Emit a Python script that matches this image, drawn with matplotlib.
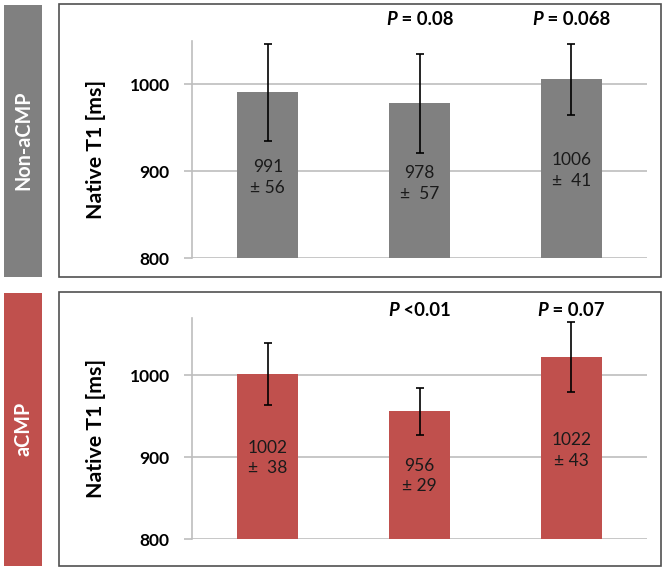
import matplotlib
matplotlib.use("Agg")
import matplotlib.pyplot as plt
from matplotlib.patches import Rectangle

plt.rcParams['font.family'] = ['Lato', 'DejaVu Sans']

# ---- data ----
groups = ["Non-aCMP", "aCMP"]
categories = ["A", "B", "C"]
means_non = [991, 978, 1006]
sd_non = [56, 57, 41]
means_acmp = [1002, 956, 1022]
sd_acmp = [38, 29, 43]
pm_sep_non = [" ", "  ", "  "]
pm_sep_acmp = ["  ", " ", " "]
p_non = ["", "0.08", "0.068"]
p_acmp = ["", "<0.01", "0.07"]
p_sep_non = ["", " = ", " = "]
p_sep_acmp = ["", " ", " = "]
yticks = [800, 900, 1000]
ylabel = "Native T1 [ms]"

# ---- style / layout ----
W, H = 665, 570
DPI = 100
GRAY = "#808080"
RED = "#C0504D"
GRID = "#BEBEBE"
FRAME = "#505050"
FS_TICK = 12.5
FS_YLAB = 15.3
FS_VAL = 12.5
FS_P = 13.3
FS_BAND = 14.2

fig = plt.figure(figsize=(W / DPI, H / DPI), dpi=DPI)
renderer = fig.canvas.get_renderer()


def fx(px):
    return px / W


def fy(py):
    return 1 - py / H


def text_width(s, **kw):
    t = fig.text(0, 0, s, **kw)
    w = t.get_window_extent(renderer).width
    t.remove()
    return w


def panel(top, bottom, band_color, group):
    fig.patches.append(Rectangle((fx(59), fy(bottom)), fx(661) - fx(59), fy(top) - fy(bottom),
                                 transform=fig.transFigure, fill=False, edgecolor=FRAME,
                                 linewidth=1.2))
    fig.patches.append(Rectangle((fx(4), fy(bottom)), fx(42) - fx(4), fy(top + 1) - fy(bottom),
                                 transform=fig.transFigure, facecolor=band_color,
                                 edgecolor="none"))
    fig.text(fx(23), (fy(top) + fy(bottom)) / 2, group, rotation=90, color="white",
             fontsize=FS_BAND, fontweight="bold", ha="center", va="center")


def draw(ax, means, sds, pm_seps, color, ymax, pvals, seps, label_y, p_y):
    x = range(len(categories))
    ax.bar(x, [m - 800 for m in means], bottom=800, width=0.4, color=color, zorder=3)
    ax.errorbar(x, means, yerr=sds, fmt="none", ecolor="black", elinewidth=1.2,
                capsize=3, capthick=1.2, zorder=4)
    ax.set_xlim(-0.5, len(categories) - 0.5)
    ax.set_ylim(800, ymax)
    ax.set_yticks(yticks)
    ax.set_yticklabels([str(t) for t in yticks], fontsize=FS_TICK, fontweight="bold")
    ax.set_xticks([])
    ax.grid(axis="y", color=GRID, linewidth=1.2, zorder=0)
    ax.tick_params(axis="y", length=6, color=GRID, width=1.2, pad=10)
    for s in ["top", "right", "bottom"]:
        ax.spines[s].set_visible(False)
    ax.spines["left"].set_color(GRID)
    ax.spines["left"].set_linewidth(1.2)
    ax.set_ylabel(ylabel, fontsize=FS_YLAB, fontweight="bold", labelpad=17)
    for i, (m, s) in enumerate(zip(means, sds)):
        ax.text(i, label_y[i], f"{m}\n±{pm_seps[i]}{s}", ha="center", va="center",
                fontsize=FS_VAL, color="#1a1a1a", linespacing=1.35, zorder=5)
        if pvals[i]:
            rest = seps[i] + pvals[i]
            total = (text_width("P", fontsize=FS_P, fontweight="bold", style="italic")
                     + text_width(rest, fontsize=FS_P, fontweight="bold"))
            t = ax.annotate("P", xy=(i, p_y), xycoords=("data", "axes fraction"),
                            xytext=(-total / 2 * 72 / DPI, 0), textcoords="offset points",
                            fontsize=FS_P, fontweight="bold", style="italic",
                            ha="left", va="center", annotation_clip=False)
            ax.annotate(rest, xy=(1, 0.5), xycoords=t,
                        fontsize=FS_P, fontweight="bold", ha="left", va="center",
                        annotation_clip=False)


# top panel
panel(4, 277, GRAY, groups[0])
ax1 = fig.add_axes([fx(192), fy(258), fx(647) - fx(192), fy(41) - fy(258)])
ax1.patch.set_alpha(0)
draw(ax1, means_non, sd_non, pm_sep_non, GRAY, 1050, p_non, p_sep_non, [893, 886, 901], 1.097)

# bottom panel
panel(292, 566, RED, groups[1])
ax2 = fig.add_axes([fx(192), fy(539), fx(647) - fx(192), fy(318) - fy(539)])
ax2.patch.set_alpha(0)
draw(ax2, means_acmp, sd_acmp, pm_sep_acmp, RED, 1070, p_acmp, p_sep_acmp, [899, 877, 908], 1.036)

fig.savefig("out.png", dpi=DPI)
